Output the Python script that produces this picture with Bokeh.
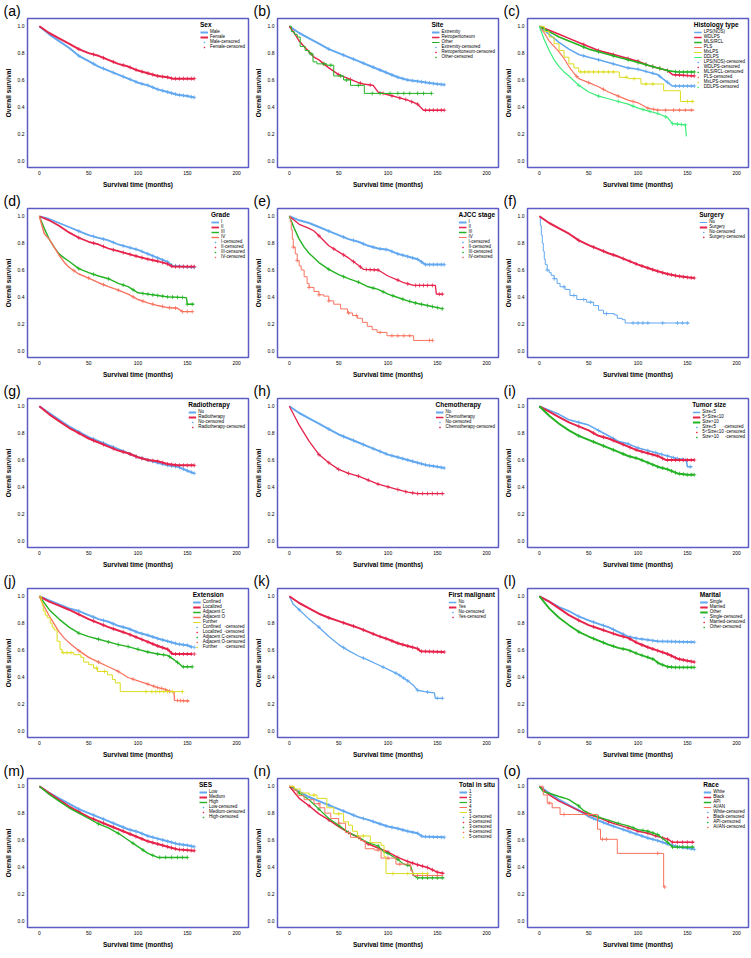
import numpy as np
from bokeh.plotting import figure
from bokeh.models import Range1d, Legend, LegendItem, FixedTicker, PrintfTickFormatter
from bokeh.layouts import gridplot
from bokeh.embed import file_html
from bokeh.resources import INLINE

BLUE = "#62a8f0"; RED = "#e6234b"; GREEN = "#23b323"; SALMON = "#f9735f"; YELLOW = "#dcdc1e"; MINT = "#3cec78"

T10 = [0, 10, 20, 30, 40, 50, 60, 70, 80, 90, 100, 110, 120, 130, 140, 150]

# ---------------- (a) Sex ----------------
a_male_t = T10 + [157]
a_male_s = [1.0, 0.94, 0.89, 0.84, 0.78, 0.74, 0.70, 0.67, 0.64, 0.61, 0.58, 0.56, 0.53, 0.51, 0.49, 0.48, 0.47]
a_female_t = [0, 10, 20, 30, 40, 50, 60, 70, 80, 90, 100, 110, 120, 130, 135, 157]
a_female_s = [1.0, 0.95, 0.91, 0.87, 0.83, 0.80, 0.78, 0.75, 0.72, 0.70, 0.67, 0.65, 0.63, 0.62, 0.61, 0.61]
cens_big = [40, 55, 65, 75, 85, 92, 98, 104, 110, 115, 120, 125, 130, 134, 138, 142, 146, 150, 154, 157]

# ---------------- (b) Site ----------------
b_ext_t = T10 + [157]
b_ext_s = [1.0, 0.95, 0.91, 0.87, 0.83, 0.80, 0.77, 0.74, 0.71, 0.68, 0.65, 0.62, 0.60, 0.59, 0.58, 0.57, 0.565]
b_ret_t = [0, 5, 10, 15, 20, 25, 30, 40, 50, 60, 70, 75, 85, 90, 100, 110, 120, 130, 136, 157]
b_ret_s = [1.0, 0.95, 0.89, 0.85, 0.81, 0.77, 0.75, 0.69, 0.64, 0.61, 0.58, 0.57, 0.56, 0.51, 0.49, 0.47, 0.45, 0.42, 0.375, 0.375]
b_ret_c = [35, 50, 62, 72, 82, 95, 104, 112, 118, 124, 130, 138, 142, 146, 150, 154, 157]
b_oth_t = [0, 2, 5, 8, 11, 16, 20, 24, 28, 38, 45, 55, 62, 76, 144]
b_oth_s = [1.0, 0.96, 0.94, 0.92, 0.85, 0.82, 0.795, 0.735, 0.72, 0.71, 0.63, 0.60, 0.56, 0.50, 0.50]
b_oth_c = [22, 35, 42, 52, 58, 70, 84, 92, 102, 110, 116, 122, 130, 136, 144]

# ---------------- (c) Histology type ----------------
c_lps_t = [0, 10, 20, 30, 40, 50, 60, 70, 80, 90, 100, 110, 120, 125, 135, 157]
c_lps_s = [1.0, 0.94, 0.88, 0.83, 0.79, 0.77, 0.75, 0.73, 0.71, 0.69, 0.68, 0.66, 0.64, 0.61, 0.555, 0.555]
c_wd_t = [0, 10, 20, 30, 40, 50, 60, 70, 80, 90, 100, 110, 120, 130, 135, 157]
c_wd_s = [1.0, 0.97, 0.94, 0.91, 0.88, 0.85, 0.82, 0.80, 0.78, 0.76, 0.74, 0.71, 0.69, 0.67, 0.64, 0.63]
c_mls_t = [0, 10, 20, 30, 40, 50, 60, 70, 80, 90, 100, 110, 120, 130, 140, 157]
c_mls_s = [1.0, 0.96, 0.92, 0.89, 0.86, 0.83, 0.81, 0.79, 0.77, 0.75, 0.73, 0.71, 0.69, 0.67, 0.66, 0.66]
c_pls_t = [0, 5, 10, 15, 20, 25, 30, 35, 40, 50, 60, 70, 80, 90, 100, 110, 120, 157]
c_pls_s = [1.0, 0.95, 0.89, 0.85, 0.81, 0.76, 0.70, 0.65, 0.61, 0.58, 0.55, 0.51, 0.48, 0.45, 0.43, 0.39, 0.375, 0.375]
c_mx_t = [0, 5, 10, 15, 20, 25, 30, 35, 40, 81, 90, 103, 126, 143, 157]
c_mx_s = [1.0, 0.96, 0.92, 0.87, 0.82, 0.77, 0.72, 0.69, 0.66, 0.62, 0.61, 0.57, 0.52, 0.44, 0.44]
c_dd_t = [0, 5, 10, 15, 20, 25, 30, 40, 50, 60, 70, 80, 90, 100, 110, 120, 130, 135, 148, 149]
c_dd_s = [1.0, 0.90, 0.82, 0.75, 0.70, 0.66, 0.63, 0.56, 0.51, 0.48, 0.46, 0.44, 0.42, 0.39, 0.37, 0.35, 0.32, 0.275, 0.265, 0.18]
c_mid_c = [45, 60, 75, 90, 100, 108, 115, 122, 130, 138, 142, 146, 150, 154, 157]
c_pls_c = [38, 50, 65, 80, 95, 110, 116, 120, 128, 136, 142, 148, 154]
c_mx_c = [42, 46, 50, 55, 60, 65, 70, 75, 88, 96, 108, 115, 150, 155]
c_dd_c = [40, 60, 80, 95, 105, 112, 120, 128, 135, 140, 144, 148]

# ---------------- (d) Grade ----------------
d_i_t = [0, 10, 20, 30, 40, 50, 60, 70, 80, 90, 100, 110, 120, 130, 135, 157]
d_i_s = [1.0, 0.98, 0.95, 0.92, 0.89, 0.86, 0.84, 0.82, 0.79, 0.77, 0.75, 0.72, 0.69, 0.66, 0.63, 0.62]
d_ii_t = [0, 10, 20, 30, 40, 50, 60, 70, 80, 90, 100, 110, 120, 130, 135, 157]
d_ii_s = [1.0, 0.97, 0.93, 0.88, 0.84, 0.81, 0.79, 0.76, 0.74, 0.72, 0.70, 0.68, 0.665, 0.645, 0.625, 0.625]
d_iii_t = [0, 5, 10, 15, 20, 25, 30, 40, 50, 60, 70, 80, 90, 100, 110, 120, 130, 149, 150, 157]
d_iii_s = [1.0, 0.91, 0.83, 0.77, 0.72, 0.69, 0.665, 0.61, 0.58, 0.555, 0.535, 0.50, 0.476, 0.43, 0.42, 0.41, 0.40, 0.394, 0.345, 0.345]
d_iv_t = [0, 5, 10, 15, 20, 25, 30, 40, 50, 60, 70, 80, 90, 100, 110, 120, 130, 140, 145, 155]
d_iv_s = [1.0, 0.87, 0.83, 0.77, 0.71, 0.66, 0.62, 0.57, 0.54, 0.505, 0.476, 0.45, 0.42, 0.38, 0.355, 0.335, 0.32, 0.315, 0.29, 0.29]
d_iii_c = [40, 55, 70, 85, 95, 105, 110, 115, 120, 125, 130, 135, 140, 145, 150, 155]
d_iv_c = [35, 50, 65, 80, 95, 105, 115, 125, 132, 138, 145, 150, 155]

# ---------------- (e) AJCC stage ----------------
e_i_t = [0, 10, 20, 30, 40, 50, 60, 70, 80, 90, 100, 110, 120, 130, 138, 157]
e_i_s = [1.0, 0.97, 0.95, 0.92, 0.89, 0.86, 0.83, 0.81, 0.78, 0.76, 0.75, 0.72, 0.70, 0.68, 0.64, 0.64]
e_ii_t = [0, 10, 20, 25, 30, 40, 50, 60, 70, 75, 90, 100, 110, 116, 126, 148, 149, 156]
e_ii_s = [1.0, 0.94, 0.91, 0.89, 0.855, 0.78, 0.735, 0.69, 0.635, 0.605, 0.60, 0.555, 0.525, 0.505, 0.485, 0.485, 0.42, 0.42]
e_iii_t = [0, 5, 10, 15, 20, 30, 40, 50, 60, 70, 80, 90, 100, 110, 120, 130, 140, 150, 156]
e_iii_s = [1.0, 0.91, 0.83, 0.77, 0.725, 0.655, 0.605, 0.565, 0.535, 0.51, 0.475, 0.455, 0.42, 0.395, 0.37, 0.35, 0.335, 0.32, 0.31]
e_iv_t = [0, 1, 2, 3, 4, 6, 8, 10, 12, 15, 18, 20, 25, 30, 35, 40, 45, 52, 59, 64, 69, 74, 79, 84, 89, 99, 126, 145]
e_iv_s = [1.0, 0.96, 0.90, 0.83, 0.77, 0.72, 0.67, 0.63, 0.60, 0.55, 0.50, 0.47, 0.44, 0.415, 0.405, 0.37, 0.345, 0.31, 0.28, 0.26, 0.24, 0.21, 0.18, 0.155, 0.135, 0.11, 0.075, 0.075]
e_ii_c = [30, 45, 55, 65, 72, 78, 82, 86, 90, 110, 120, 128, 132, 136, 140, 145, 152, 155]
e_iii_c = [40, 55, 70, 85, 95, 105, 115, 122, 128, 134, 140, 145, 150, 155]
e_iv_c = [4, 8, 20, 30, 40, 60, 68, 92, 104, 110, 116, 122, 142, 145]

# ---------------- (f) Surgery ----------------
f_no_t = [0, 1, 2, 3, 4, 5, 6, 8, 10, 12, 15, 18, 21, 26, 31, 38, 48, 55, 60, 65, 76, 79, 84, 87, 152]
f_no_s = [1.0, 0.93, 0.86, 0.80, 0.74, 0.68, 0.64, 0.60, 0.58, 0.56, 0.535, 0.50, 0.475, 0.455, 0.41, 0.38, 0.36, 0.335, 0.30, 0.275, 0.265, 0.24, 0.23, 0.205, 0.205]
f_surg_t = T10 + [157]
f_surg_s = [1.0, 0.95, 0.91, 0.87, 0.82, 0.785, 0.755, 0.725, 0.70, 0.67, 0.64, 0.615, 0.59, 0.57, 0.555, 0.545, 0.54]
f_no_c = [8, 15, 25, 35, 45, 52, 68, 95, 100, 105, 110, 125, 140, 145, 150]

# ---------------- (g) Radiotherapy ----------------
g_no_t = T10 + [157]
g_no_s = [1.0, 0.95, 0.90, 0.85, 0.81, 0.77, 0.74, 0.71, 0.68, 0.65, 0.62, 0.60, 0.58, 0.56, 0.55, 0.52, 0.50]
g_rt_t = T10[:-1] + [157]
g_rt_s = [1.0, 0.94, 0.89, 0.84, 0.80, 0.76, 0.73, 0.70, 0.67, 0.65, 0.62, 0.60, 0.59, 0.57, 0.56, 0.56]

# ---------------- (h) Chemotherapy ----------------
h_no_t = T10 + [157]
h_no_s = [1.0, 0.95, 0.91, 0.87, 0.83, 0.79, 0.76, 0.73, 0.70, 0.67, 0.64, 0.62, 0.60, 0.58, 0.56, 0.55, 0.54]
h_ch_t = [0, 5, 10, 15, 20, 25, 30, 40, 50, 60, 70, 80, 90, 100, 110, 120, 130, 157]
h_ch_s = [1.0, 0.93, 0.86, 0.80, 0.74, 0.69, 0.64, 0.58, 0.53, 0.50, 0.48, 0.45, 0.42, 0.40, 0.38, 0.36, 0.35, 0.35]
h_ch_c = [30, 40, 50, 60, 70, 80, 90, 100, 110, 118, 125, 130, 135, 140, 145, 150, 155]

# ---------------- (i) Tumor size ----------------
i_s5_t = [0, 10, 20, 30, 40, 50, 60, 70, 80, 90, 100, 110, 120, 130, 140, 149, 150, 155]
i_s5_s = [1.0, 0.97, 0.94, 0.90, 0.88, 0.86, 0.82, 0.78, 0.74, 0.72, 0.69, 0.67, 0.65, 0.63, 0.61, 0.60, 0.55, 0.55]
i_s10_t = [0, 10, 20, 30, 40, 50, 60, 70, 80, 90, 100, 110, 120, 128, 157]
i_s10_s = [1.0, 0.96, 0.92, 0.88, 0.85, 0.82, 0.78, 0.76, 0.73, 0.70, 0.67, 0.65, 0.63, 0.60, 0.60]
i_sg_t = T10 + [157]
i_sg_s = [1.0, 0.93, 0.87, 0.82, 0.78, 0.75, 0.72, 0.69, 0.66, 0.63, 0.61, 0.58, 0.55, 0.53, 0.50, 0.49, 0.49]
i_s5_c = [40, 60, 75, 90, 100, 110, 118, 124, 130, 136, 140, 145, 148, 153]

# ---------------- (j) Extension ----------------
j_conf_t = T10 + [155]
j_conf_s = [1.0, 0.97, 0.94, 0.91, 0.89, 0.86, 0.83, 0.81, 0.78, 0.76, 0.73, 0.71, 0.685, 0.665, 0.645, 0.635, 0.62]
j_loc_t = [0, 10, 20, 30, 40, 50, 60, 70, 80, 90, 100, 110, 120, 130, 135, 155]
j_loc_s = [1.0, 0.96, 0.93, 0.90, 0.865, 0.83, 0.80, 0.77, 0.745, 0.72, 0.69, 0.66, 0.63, 0.605, 0.57, 0.57]
j_adjc_t = [0, 10, 20, 30, 40, 50, 60, 70, 80, 90, 100, 110, 120, 130, 137, 143, 145, 155]
j_adjc_s = [1.0, 0.90, 0.83, 0.77, 0.725, 0.70, 0.68, 0.66, 0.64, 0.625, 0.605, 0.585, 0.57, 0.56, 0.525, 0.49, 0.475, 0.475]
j_adjo_t = [0, 4, 10, 15, 20, 25, 30, 40, 50, 60, 70, 80, 90, 100, 110, 120, 126, 133, 136.5, 137, 152]
j_adjo_s = [1.0, 0.935, 0.855, 0.795, 0.735, 0.69, 0.655, 0.595, 0.545, 0.51, 0.475, 0.44, 0.395, 0.37, 0.345, 0.32, 0.31, 0.29, 0.29, 0.225, 0.22]
j_fur_t = [0, 2, 3, 4, 6, 8, 11, 13, 15, 18, 21, 23, 35, 42, 45, 50, 55, 59, 69, 74, 77, 82, 145]
j_fur_s = [1.0, 0.96, 0.93, 0.89, 0.86, 0.84, 0.80, 0.77, 0.75, 0.665, 0.605, 0.58, 0.565, 0.545, 0.51, 0.49, 0.465, 0.44, 0.415, 0.38, 0.355, 0.29, 0.29]
j_adjc_c = [40, 60, 70, 80, 90, 100, 110, 120, 126, 132, 140, 146, 150, 155]
j_adjo_c = [40, 60, 80, 95, 110, 116, 120, 124, 128, 132, 140, 143, 146, 150]
j_fur_c = [24, 28, 32, 58, 66, 108, 114, 118, 122, 126, 130, 135, 145]

# ---------------- (k) First malignant ----------------
k_no_t = [0, 4, 10, 20, 30, 40, 50, 60, 70, 80, 90, 100, 110, 120, 126, 130, 137, 147, 148, 156]
k_no_s = [1.0, 0.94, 0.90, 0.83, 0.77, 0.70, 0.64, 0.595, 0.555, 0.525, 0.49, 0.455, 0.42, 0.37, 0.335, 0.30, 0.29, 0.28, 0.24, 0.24]
k_yes_t = [0, 10, 20, 30, 40, 50, 60, 70, 80, 90, 100, 110, 120, 130, 133, 157]
k_yes_s = [1.0, 0.95, 0.91, 0.87, 0.84, 0.815, 0.79, 0.765, 0.735, 0.705, 0.68, 0.65, 0.63, 0.61, 0.59, 0.585]
k_no_c = [10, 30, 55, 75, 95, 108, 112, 116, 120, 130, 140, 150, 155]

# ---------------- (l) Marital ----------------
l_sin_t = [0, 10, 20, 30, 40, 50, 60, 70, 80, 90, 100, 110, 120, 157]
l_sin_s = [1.0, 0.96, 0.92, 0.89, 0.85, 0.82, 0.795, 0.77, 0.735, 0.70, 0.685, 0.675, 0.665, 0.658]
l_mar_t = T10 + [157]
l_mar_s = [1.0, 0.96, 0.91, 0.86, 0.82, 0.785, 0.76, 0.735, 0.71, 0.69, 0.65, 0.62, 0.595, 0.57, 0.535, 0.52, 0.51]
l_oth_t = [0, 10, 20, 30, 40, 50, 60, 70, 80, 90, 100, 110, 116, 121, 130, 137, 157]
l_oth_s = [1.0, 0.91, 0.84, 0.785, 0.735, 0.70, 0.67, 0.64, 0.615, 0.60, 0.57, 0.545, 0.53, 0.50, 0.475, 0.47, 0.47]

# ---------------- (m) SES ----------------
m_low_t = T10 + [157]
m_low_s = [1.0, 0.95, 0.91, 0.87, 0.83, 0.80, 0.77, 0.74, 0.71, 0.68, 0.66, 0.63, 0.61, 0.59, 0.57, 0.56, 0.55]
m_med_t = T10[:-1] + [157]
m_med_s = [1.0, 0.95, 0.90, 0.85, 0.81, 0.77, 0.74, 0.71, 0.68, 0.65, 0.62, 0.59, 0.57, 0.55, 0.53, 0.52]
m_high_t = [0, 10, 20, 30, 40, 50, 60, 70, 80, 90, 100, 110, 120, 150]
m_high_s = [1.0, 0.94, 0.89, 0.84, 0.80, 0.76, 0.72, 0.69, 0.65, 0.60, 0.55, 0.50, 0.47, 0.47]
m_high_c = [60, 80, 95, 105, 115, 122, 128, 134, 140, 145, 150]

# ---------------- (n) Total in situ ----------------
n_1_t = [0, 10, 20, 30, 40, 50, 60, 70, 80, 90, 100, 110, 120, 130, 135, 157]
n_1_s = [1.0, 0.96, 0.92, 0.89, 0.86, 0.83, 0.80, 0.77, 0.75, 0.725, 0.70, 0.685, 0.665, 0.65, 0.625, 0.62]
n_2_t = T10 + [157]
n_2_s = [1.0, 0.91, 0.855, 0.795, 0.75, 0.70, 0.655, 0.62, 0.57, 0.54, 0.51, 0.47, 0.44, 0.415, 0.395, 0.36, 0.35]
n_3_t = [0, 4, 10, 20, 30, 40, 50, 60, 70, 80, 90, 96, 100, 110, 116, 123, 126, 130, 157]
n_3_s = [1.0, 0.99, 0.95, 0.90, 0.83, 0.76, 0.71, 0.655, 0.62, 0.58, 0.555, 0.51, 0.50, 0.455, 0.42, 0.405, 0.335, 0.318, 0.318]
n_4_t = [0, 4, 8, 15, 25, 31, 36, 42, 50, 57, 62, 72, 77, 86, 93, 108, 123, 125, 156]
n_4_s = [1.0, 0.97, 0.93, 0.90, 0.87, 0.84, 0.80, 0.76, 0.725, 0.655, 0.62, 0.595, 0.535, 0.525, 0.465, 0.42, 0.37, 0.335, 0.335]
n_5_t = [0, 5, 11, 20, 28, 38, 45, 55, 60, 64, 69, 82, 93, 96, 98, 140]
n_5_s = [1.0, 0.98, 0.95, 0.935, 0.91, 0.84, 0.795, 0.735, 0.71, 0.665, 0.63, 0.58, 0.56, 0.475, 0.35, 0.35]
n_2_c = [20, 40, 60, 80, 100, 110, 120, 125, 130, 135, 140, 145, 150, 155]
n_3_c = [10, 30, 50, 70, 90, 100, 110, 120, 130, 135, 140, 145, 150, 155]
n_4_c = [30, 50, 70, 90, 100, 112, 130, 140, 150]
n_5_c = [25, 50, 75, 105, 120, 135, 140]

# ---------------- (o) Race ----------------
o_wh_t = T10 + [157]
o_wh_s = [1.0, 0.95, 0.90, 0.86, 0.82, 0.775, 0.745, 0.715, 0.69, 0.665, 0.64, 0.615, 0.595, 0.57, 0.55, 0.54, 0.53]
o_bl_t = [0, 10, 20, 30, 40, 50, 60, 70, 80, 90, 100, 110, 120, 130, 135, 157]
o_bl_s = [1.0, 0.936, 0.89, 0.854, 0.818, 0.79, 0.767, 0.736, 0.712, 0.69, 0.665, 0.65, 0.625, 0.606, 0.583, 0.583]
o_api_t = [0, 4, 10, 20, 25, 30, 35, 40, 45, 50, 60, 70, 80, 90, 100, 110, 120, 130, 135, 157]
o_api_s = [1.0, 0.96, 0.948, 0.924, 0.913, 0.90, 0.877, 0.854, 0.818, 0.80, 0.77, 0.748, 0.724, 0.705, 0.677, 0.665, 0.64, 0.583, 0.547, 0.547]
o_ai_t = [0, 4, 8, 13, 21, 59, 62, 79, 126, 127]
o_ai_s = [1.0, 0.935, 0.875, 0.84, 0.79, 0.68, 0.605, 0.50, 0.25, 0.25]
o_bl_c = [50, 70, 90, 100, 110, 118, 125, 130, 135, 140, 145, 150, 155]
o_api_c = [40, 60, 80, 95, 105, 110, 115, 120, 130, 135, 140, 145, 150, 155]
o_ai_c = [10, 25, 50, 64, 68, 120, 127]

W, H = 250, 190
FONT = "Liberation Sans"


def censor_y(t, s, c, mode):
    t = np.asarray(t, float); s = np.asarray(s, float); c = np.asarray(c, float)
    if mode == "step":
        idx = np.clip(np.searchsorted(t, c, side="right") - 1, 0, len(s) - 1)
        return s[idx]
    return np.interp(c, t, s)


def panel(letter, title, groups):
    p = figure(width=W, height=H, x_range=Range1d(-12, 212), y_range=Range1d(-0.052, 1.058),
               output_backend="svg", toolbar_location=None,
               min_border_left=27, min_border_right=2, min_border_top=16, min_border_bottom=17)
    p.title.text = "(" + letter + ")"
    p.title.text_font_size = "14px"
    p.title.text_font = FONT
    p.title.text_font_style = "normal"
    p.title.text_color = "black"
    p.title.align = "left"
    p.title.offset = -24
    p.title.standoff = 0
    p.grid.visible = False
    p.outline_line_color = "#5c5cc4"
    p.outline_line_width = 1.5
    p.xaxis.ticker = FixedTicker(ticks=[0, 50, 100, 150, 200])
    p.yaxis.ticker = FixedTicker(ticks=[0, 0.2, 0.4, 0.6, 0.8, 1.0])
    p.yaxis.formatter = PrintfTickFormatter(format="%.1f")
    p.xaxis.axis_label = "Survival time (months)"
    p.yaxis.axis_label = "Overall survival"
    for ax in (p.xaxis[0], p.yaxis[0]):
        ax.axis_line_color = None
        ax.major_tick_line_color = None
        ax.minor_tick_line_color = None
        ax.major_tick_out = 0
        ax.major_tick_in = 0
        ax.minor_tick_out = 0
        ax.minor_tick_in = 0
        ax.major_label_text_font_size = "5px"
        ax.major_label_text_font = FONT
        ax.major_label_text_color = "black"
        ax.major_label_standoff = 3
        ax.axis_label_text_font_size = "6.5px"
        ax.axis_label_text_font = FONT
        ax.axis_label_text_font_style = "bold"
        ax.axis_label_text_color = "black"
        ax.axis_label_standoff = 3
    line_items, cens_items = [], []
    for name, t, s, c, color, mode, lw, clabel in groups:
        if mode == "step":
            r = p.step(t, s, mode="after", line_color=color, line_width=lw)
        else:
            r = p.line(t, s, line_color=color, line_width=lw)
        rc = p.scatter(c, censor_y(t, s, c, mode), marker="cross", size=4,
                       line_color=color, line_width=0.8)
        line_items.append(LegendItem(label=name, renderers=[r]))
        cens_items.append(LegendItem(label=clabel, renderers=[rc]))
    leg = Legend(items=line_items + cens_items, location="top_right", title=title,
                 label_text_font_size="4.5px", label_text_font=FONT, label_text_color="black",
                 label_height=4, glyph_height=4, glyph_width=8, label_standoff=2, spacing=0,
                 padding=1, margin=3, title_text_font_size="6.5px", title_text_font_style="bold",
                 title_text_font=FONT, title_text_color="black", title_standoff=1,
                 border_line_color=None, background_fill_alpha=0)
    p.add_layout(leg)
    return p


def g(name, t, s, c, color, mode="line", lw=1.0, clabel=None):
    return (name, t, s, c, color, mode, lw, clabel if clabel else name + "-censored")


panels = [
    panel("a", "Sex", [g("Male", a_male_t, a_male_s, cens_big, BLUE, lw=2),
                       g("Female", a_female_t, a_female_s, cens_big, RED, lw=2)]),
    panel("b", "Site", [g("Extremity", b_ext_t, b_ext_s, cens_big, BLUE, lw=2),
                        g("Retroperitoneum", b_ret_t, b_ret_s, b_ret_c, RED, lw=1.4),
                        g("Other", b_oth_t, b_oth_s, b_oth_c, GREEN, mode="step")]),
    panel("c", "Histology type", [g("LPS(NOS)", c_lps_t, c_lps_s, c_mid_c, BLUE, lw=1.6),
                                  g("WDLPS", c_wd_t, c_wd_s, c_mid_c, RED, lw=1.6),
                                  g("MLS/RCL", c_mls_t, c_mls_s, c_mid_c, GREEN, lw=1.6),
                                  g("PLS", c_pls_t, c_pls_s, c_pls_c, SALMON, lw=1.2),
                                  g("MxLPS", c_mx_t, c_mx_s, c_mx_c, YELLOW, mode="step"),
                                  g("DDLPS", c_dd_t, c_dd_s, c_dd_c, MINT, lw=1.2)]),
    panel("d", "Grade", [g("I", d_i_t, d_i_s, cens_big, BLUE, lw=1.8),
                         g("II", d_ii_t, d_ii_s, cens_big, RED, lw=1.8),
                         g("III", d_iii_t, d_iii_s, d_iii_c, GREEN, lw=1.4),
                         g("IV", d_iv_t, d_iv_s, d_iv_c, SALMON, lw=1.4)]),
    panel("e", "AJCC stage", [g("I", e_i_t, e_i_s, cens_big, BLUE, lw=2),
                              g("II", e_ii_t, e_ii_s, e_ii_c, RED, lw=1.3),
                              g("III", e_iii_t, e_iii_s, e_iii_c, GREEN, lw=1.4),
                              g("IV", e_iv_t, e_iv_s, e_iv_c, SALMON, mode="step")]),
    panel("f", "Surgery", [g("No", f_no_t, f_no_s, f_no_c, BLUE, mode="step"),
                           g("Surgery", f_surg_t, f_surg_s, cens_big, RED, lw=2)]),
    panel("g", "Radiotherapy", [g("No", g_no_t, g_no_s, cens_big, BLUE, lw=2),
                                g("Radiotherapy", g_rt_t, g_rt_s, cens_big, RED, lw=2)]),
    panel("h", "Chemotherapy", [g("No", h_no_t, h_no_s, cens_big, BLUE, lw=2),
                                g("Chemotherapy", h_ch_t, h_ch_s, h_ch_c, RED, lw=1.3)]),
    panel("i", "Tumor size", [g("Size≤5", i_s5_t, i_s5_s, i_s5_c, BLUE, lw=1.6, clabel="Size≤5      -censored"),
                              g("5<Size≤10", i_s10_t, i_s10_s, cens_big, RED, lw=2, clabel="5<Size≤10 -censored"),
                              g("Size>10", i_sg_t, i_sg_s, cens_big, GREEN, lw=2, clabel="Size>10     -censored")]),
    panel("j", "Extension", [g("Confined", j_conf_t, j_conf_s, cens_big, BLUE, lw=2, clabel="Confined   -censored"),
                             g("Localized", j_loc_t, j_loc_s, cens_big, RED, lw=2, clabel="Localized  -censored"),
                             g("Adjacent C", j_adjc_t, j_adjc_s, j_adjc_c, GREEN, lw=1.4),
                             g("Adjacent O", j_adjo_t, j_adjo_s, j_adjo_c, SALMON, lw=1.3),
                             g("Further", j_fur_t, j_fur_s, j_fur_c, YELLOW, mode="step", clabel="Further      -censored")]),
    panel("k", "First malignant", [g("No", k_no_t, k_no_s, k_no_c, BLUE, lw=1.3),
                                   g("Yes", k_yes_t, k_yes_s, cens_big, RED, lw=2)]),
    panel("l", "Marital", [g("Single", l_sin_t, l_sin_s, cens_big, BLUE, lw=1.8),
                           g("Married", l_mar_t, l_mar_s, cens_big, RED, lw=2),
                           g("Other", l_oth_t, l_oth_s, cens_big, GREEN, lw=1.8)]),
    panel("m", "SES", [g("Low", m_low_t, m_low_s, cens_big, BLUE, lw=2),
                       g("Medium", m_med_t, m_med_s, cens_big, RED, lw=2),
                       g("High", m_high_t, m_high_s, m_high_c, GREEN, lw=1.4)]),
    panel("n", "Total in situ", [g("1", n_1_t, n_1_s, cens_big, BLUE, lw=2),
                                 g("2", n_2_t, n_2_s, n_2_c, RED, lw=1.5),
                                 g("3", n_3_t, n_3_s, n_3_c, GREEN, lw=1.2),
                                 g("4", n_4_t, n_4_s, n_4_c, SALMON, mode="step"),
                                 g("5", n_5_t, n_5_s, n_5_c, YELLOW, mode="step")]),
    panel("o", "Race", [g("White", o_wh_t, o_wh_s, cens_big, BLUE, lw=2),
                        g("Black", o_bl_t, o_bl_s, o_bl_c, RED, lw=1.4),
                        g("API", o_api_t, o_api_s, o_api_c, GREEN, lw=1.4),
                        g("AI/AN", o_ai_t, o_ai_s, o_ai_c, SALMON, mode="step")]),
]

grid = gridplot([panels[i:i + 3] for i in range(0, 15, 3)], toolbar_location=None)
open("out.html", "w").write(file_html(grid, INLINE))
